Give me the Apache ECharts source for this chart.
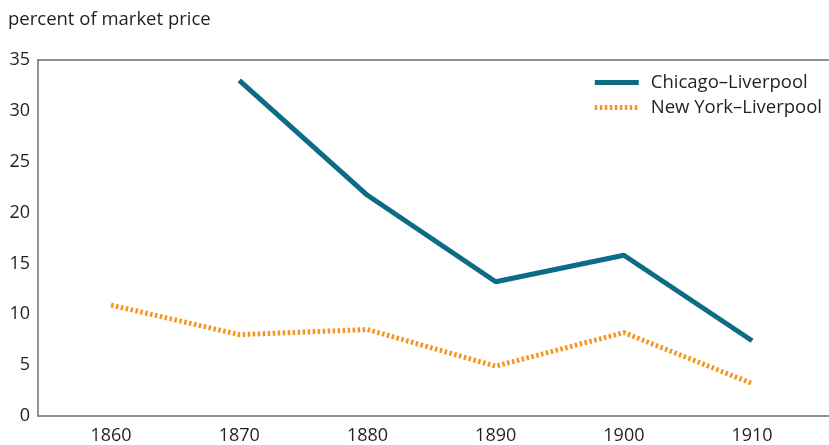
<!DOCTYPE html>
<html>
<head>
<meta charset="utf-8">
<script src="https://cdn.jsdelivr.net/npm/echarts@6/dist/echarts.min.js"></script>
<style>
  html, body { margin: 0; padding: 0; background: #fff; }
  #chart { width: 829px; height: 445px; }
</style>
</head>
<body>
<div id="chart"></div>
<script>
// data
var years = [1860, 1870, 1880, 1890, 1900, 1910];
var chicagoLiverpool = [null, 33.0, 21.7, 13.2, 15.8, 7.4];
var newYorkLiverpool = [10.9, 8.0, 8.5, 4.9, 8.2, 3.2];
var yTicks = [0, 5, 10, 15, 20, 25, 30, 35];

function pairs(vals) {
  return years.map(function (y, i) { return [y, vals[i]]; });
}

var fontFam = '"Open Sans", "Noto Sans", sans-serif';
var chart = echarts.init(document.getElementById('chart'));
chart.setOption({
  animation: false,
  textStyle: { fontFamily: fontFam },
  title: {
    text: 'percent of market price',
    left: 3, top: 5,
    textStyle: { fontSize: 18.5, fontWeight: 'normal', color: '#231f20', fontFamily: fontFam }
  },
  legend: {
    right: 2, top: 68,
    orient: 'vertical',
    itemWidth: 44, itemHeight: 6, itemGap: 6,
    itemStyle: { opacity: 0 },
    lineStyle: { width: 5 },
    textStyle: { fontSize: 18.5, color: '#231f20', fontFamily: fontFam, padding: [0, 0, 0, 7] },
    data: ['Chicago–Liverpool', 'New York–Liverpool']
  },
  grid: { left: 38, right: 0, top: 60, bottom: 27 },
  xAxis: [{
    type: 'value',
    min: 1854.3, max: 1916,
    axisLine: { show: true, onZero: false, lineStyle: { color: '#6d6e71', width: 1.5 } },
    axisTick: { show: false },
    splitLine: { show: false },
    axisLabel: {
      customValues: years,
      formatter: function (v) { return String(v); },
      fontSize: 18, color: '#231f20', margin: 11, fontFamily: fontFam
    }
  }, {
    type: 'value', position: 'top',
    min: 1854.3, max: 1916,
    axisLine: { show: true, onZero: false, lineStyle: { color: '#6d6e71', width: 1.5 } },
    axisTick: { show: false }, axisLabel: { show: false }, splitLine: { show: false }
  }],
  yAxis: {
    type: 'value',
    min: 0, max: 35, interval: 5,
    axisLine: { show: true, lineStyle: { color: '#6d6e71', width: 1.5 } },
    axisTick: { show: false },
    splitLine: { show: false },
    axisLabel: {
      customValues: yTicks,
      fontSize: 18, color: '#231f20', margin: 8, fontFamily: fontFam
    }
  },
  series: [{
    name: 'Chicago–Liverpool',
    type: 'line',
    data: pairs(chicagoLiverpool),
    symbol: 'none',
    color: '#0c6b85',
    lineStyle: { color: '#0c6b85', width: 5 }
  }, {
    name: 'New York–Liverpool',
    type: 'line',
    data: pairs(newYorkLiverpool),
    symbol: 'none',
    color: '#f7941d',
    lineStyle: { color: '#f7941d', width: 5, type: [2.5, 2.5] }
  }]
});
</script>
</body>
</html>
